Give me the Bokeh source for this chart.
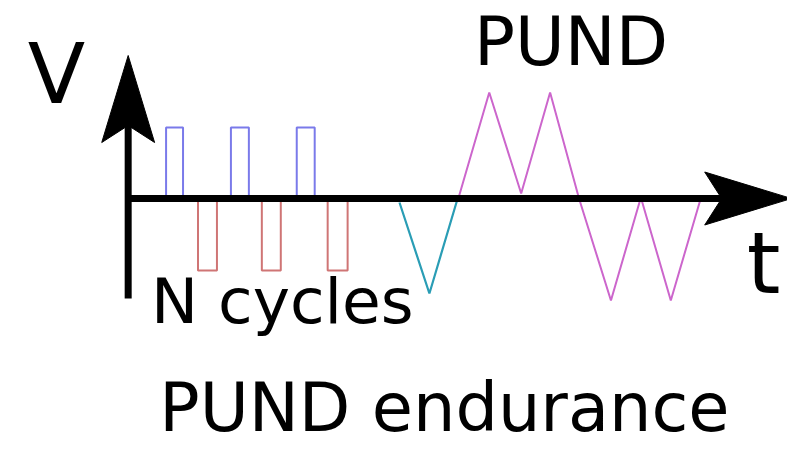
from bokeh.plotting import figure
from bokeh.models import Range1d
from bokeh.core.properties import value
from bokeh.embed import file_html
from bokeh.resources import INLINE

# ---- data (time in arbitrary units, voltage in arbitrary units) ----
write_t_start = [38, 103, 169]
write_t_end = [55, 121, 187]
write_v = [71, 71, 71]

erase_t_start = [70, 134, 200]
erase_t_end = [89, 153, 220]
erase_v = [-72, -72, -72]

preset_t = [272, 302, 330]
preset_v = [-4, -95, -1]

pund_t = [331, 362, 394, 423, 452, 484, 514, 544, 574]
pund_v = [0, 106, 5, 106, 0, -102, 1, -102, 0]

axis_labels = ["V", "t"]
titles = ["PUND", "N cycles", "PUND endurance"]

# ---- figure ----
p = figure(width=787, height=445, output_backend="svg", toolbar_location=None,
           x_range=Range1d(-128, 661), y_range=Range1d(-247, 198),
           x_axis_location=None, y_axis_location=None, min_border=0)
p.outline_line_color = None
p.xgrid.visible = False
p.ygrid.visible = False
p.background_fill_color = "white"

BLUE = "#7a7aea"
RED = "#cf7575"
TEAL = "#2a9db5"
MAG = "#cc66cc"

p.quad(left=write_t_start, right=write_t_end, bottom=0, top=write_v,
       fill_color=None, line_color=BLUE, line_width=2)
p.quad(left=erase_t_start, right=erase_t_end, bottom=erase_v, top=0,
       fill_color=None, line_color=RED, line_width=2)
p.line(preset_t, preset_v, line_color=TEAL, line_width=2.2)
p.line(pund_t, pund_v, line_color=MAG, line_width=2)

# ---- axes with arrows ----
v_top, v_bottom = 143, -100
t_end = 665
head_len, head_half, notch = 87, 26.5, 70
p.line([0, 0], [v_bottom, v_top - notch + 3], line_color="black", line_width=7)
p.line([0, t_end - notch + 3], [0, 0], line_color="black", line_width=7)
p.patch([0, head_half, 0, -head_half],
        [v_top, v_top - head_len, v_top - notch, v_top - head_len],
        fill_color="black", line_color="black", line_width=1)
p.patch([t_end, t_end - head_len, t_end - notch, t_end - head_len],
        [0, head_half, 0, -head_half],
        fill_color="black", line_color="black", line_width=1)

# ---- texts ----
font = value("DejaVu Sans")
p.text(x=[-72], y=[125], text=[axis_labels[0]], text_font=font, text_font_size="84px",
       text_align="center", text_baseline="alphabetic", text_color="black")
p.text(x=[637], y=[-64], text=[axis_labels[1]], text_font=font, text_font_size="86px",
       text_align="center", text_baseline="alphabetic", text_color="black")
p.text(x=[444], y=[157], text=[titles[0]], text_font=font, text_font_size="68px",
       text_align="center", text_baseline="alphabetic", text_color="black")
p.text(x=[154.5], y=[-103], text=[titles[1]], text_font=font, text_font_size="63px",
       text_align="center", text_baseline="alphabetic", text_color="black")
p.text(x=[317], y=[-209], text=[titles[2]], text_font=font, text_font_size="67px",
       text_align="center", text_baseline="alphabetic", text_color="black")

open("out.html", "w").write(file_html(p, INLINE))
